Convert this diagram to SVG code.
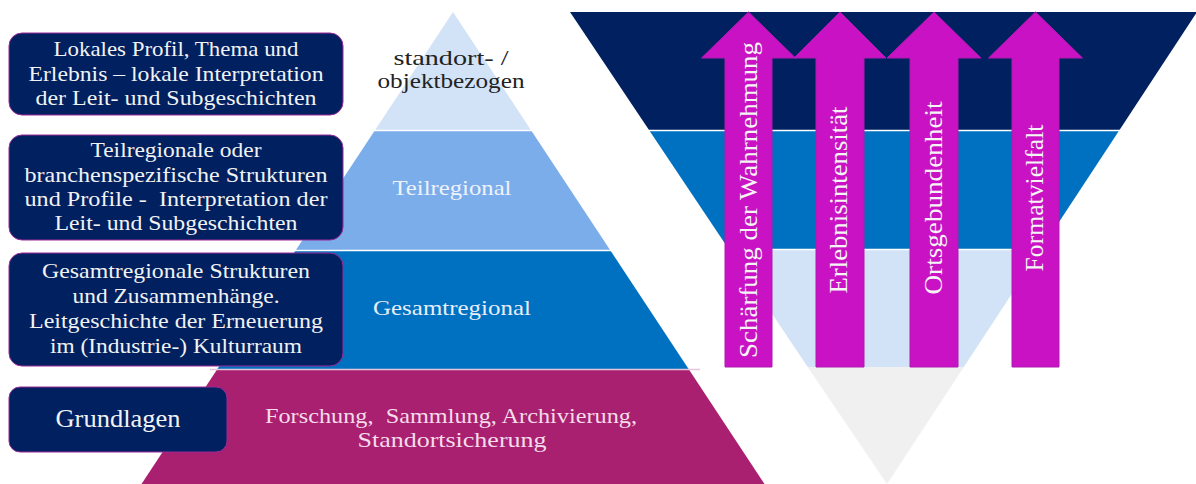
<svg xmlns="http://www.w3.org/2000/svg" width="1196" height="484" viewBox="0 0 1196 484">
<style>
text{lengthAdjust:spacingAndGlyphs}
.box{fill:#002060;stroke:#9b2a98;stroke-width:1}
.bt{font-family:"Liberation Serif","DejaVu Serif",serif;font-size:21px;fill:#f2f2f2;text-anchor:middle}
.pt{font-family:"Liberation Serif","DejaVu Serif",serif;font-size:22px;text-anchor:middle}
.arrow{fill:#c812c4;stroke:#b01ab0;stroke-width:1}
.at{font-family:"Liberation Serif","DejaVu Serif",serif;font-size:25px;fill:#f4f4f4;text-anchor:middle}
.sep{stroke:#ffffff;stroke-width:1.5}
</style>
<rect width="1196" height="484" fill="#ffffff"/>
<g id="pyramid">
  <polygon points="453,12 530.9,130 375.1,130" fill="#d2e3f7"/>
  <polygon points="375.1,130 530.9,130 610.1,250 295.9,250" fill="#7badeb"/>
  <polygon points="295.9,250 610.1,250 688.6,369 217.4,369" fill="#0070c0"/>
  <polygon points="217.4,369 688.6,369 764.5,484 141.5,484" fill="#a8206f"/>
  <line class="sep" x1="370" y1="130.5" x2="540" y2="130.5"/>
  <line class="sep" x1="290" y1="250.5" x2="620" y2="250.5"/>
  <line x1="210" y1="369.5" x2="700" y2="369.5" stroke="#e6c6dc" stroke-width="1.5"/>
</g>
<g id="funnel">
  <polygon points="570,12 1197,12 1119.5,130 649,130" fill="#002060"/>
  <polygon points="649,130 1119.5,130 1040.6,250 729.3,250" fill="#0070c0"/>
  <polygon points="729.3,250 1040.6,250 963.8,367 807.7,367" fill="#d2e3f7"/>
  <polygon points="807.7,367 963.8,367 887,484" fill="#f0f0f0"/>
  <line class="sep" x1="640" y1="130.5" x2="1130" y2="130.5"/>
  <line class="sep" x1="720" y1="249.5" x2="1050" y2="249.5"/>
</g>
<g id="label-standort">
  <text class="pt" fill="#222222" x="451" y="65" textLength="115" lengthAdjust="spacingAndGlyphs">standort- /</text>
  <text class="pt" fill="#222222" x="451" y="88" textLength="147" lengthAdjust="spacingAndGlyphs">objektbezogen</text>
</g>
<g id="label-teilregional">
  <text class="pt" fill="#eef2fa" x="452" y="195" textLength="119" lengthAdjust="spacingAndGlyphs">Teilregional</text>
</g>
<g id="label-gesamtregional">
  <text class="pt" fill="#e8eef8" x="452" y="315" textLength="158" lengthAdjust="spacingAndGlyphs">Gesamtregional</text>
</g>
<g id="label-grundlagen-layer">
  <text class="pt" fill="#f4dcea" x="451" y="423" textLength="372" lengthAdjust="spacingAndGlyphs" xml:space="preserve">Forschung,  Sammlung, Archivierung,</text>
  <text class="pt" fill="#f4dcea" x="452" y="447" textLength="189" lengthAdjust="spacingAndGlyphs">Standortsicherung</text>
</g>
<g id="box-lokal">
  <rect class="box" x="9" y="33" width="334" height="82" rx="13"/>
  <text class="bt" x="176" y="56" textLength="245" lengthAdjust="spacingAndGlyphs">Lokales Profil, Thema und</text>
  <text class="bt" x="176" y="81" textLength="295" lengthAdjust="spacingAndGlyphs">Erlebnis – lokale Interpretation</text>
  <text class="bt" x="176" y="105" textLength="281" lengthAdjust="spacingAndGlyphs">der Leit- und Subgeschichten</text>
</g>
<g id="box-teilregional">
  <rect class="box" x="9" y="135" width="334" height="105" rx="13"/>
  <text class="bt" x="176" y="157" textLength="171" lengthAdjust="spacingAndGlyphs">Teilregionale oder</text>
  <text class="bt" x="176" y="182" textLength="303" lengthAdjust="spacingAndGlyphs">branchenspezifische Strukturen</text>
  <text class="bt" x="176" y="206" textLength="303" lengthAdjust="spacingAndGlyphs" xml:space="preserve">und Profile -  Interpretation der</text>
  <text class="bt" x="176" y="230" textLength="243" lengthAdjust="spacingAndGlyphs">Leit- und Subgeschichten</text>
</g>
<g id="box-gesamtregional">
  <rect class="box" x="9" y="253" width="334" height="113" rx="13"/>
  <text class="bt" x="176" y="278" textLength="268" lengthAdjust="spacingAndGlyphs">Gesamtregionale Strukturen</text>
  <text class="bt" x="176" y="303" textLength="207" lengthAdjust="spacingAndGlyphs">und Zusammenhänge.</text>
  <text class="bt" x="176" y="328" textLength="294" lengthAdjust="spacingAndGlyphs">Leitgeschichte der Erneuerung</text>
  <text class="bt" x="176" y="353" textLength="252" lengthAdjust="spacingAndGlyphs">im (Industrie-) Kulturraum</text>
</g>
<g id="box-grundlagen">
  <rect class="box" x="9" y="387" width="218" height="65" rx="11"/>
  <text class="bt" style="font-size:25px" x="118" y="427" textLength="125" lengthAdjust="spacingAndGlyphs">Grundlagen</text>
</g>
<g id="arrow-wahrnehmung">
  <polygon class="arrow" points="748.5,12 795.5,58 772,58 772,367 725,367 725,58 701.5,58"/>
  <text class="at" transform="translate(757,200) rotate(-90)" textLength="316" lengthAdjust="spacingAndGlyphs">Schärfung der Wahrnehmung</text>
</g>
<g id="arrow-erlebnis">
  <polygon class="arrow" points="840,12 886,58 864,58 864,367 816,367 816,58 794,58"/>
  <text class="at" transform="translate(847,200) rotate(-90)" textLength="187" lengthAdjust="spacingAndGlyphs">Erlebnisintensität</text>
</g>
<g id="arrow-orts">
  <polygon class="arrow" points="934,12 981,58 958,58 958,367 910,367 910,58 887,58"/>
  <text class="at" transform="translate(942,198) rotate(-90)" textLength="193" lengthAdjust="spacingAndGlyphs">Ortsgebundenheit</text>
</g>
<g id="arrow-format">
  <polygon class="arrow" points="1035.5,12 1082.5,58 1059,58 1059,367 1012,367 1012,58 988.5,58"/>
  <text class="at" transform="translate(1043,198) rotate(-90)" textLength="147" lengthAdjust="spacingAndGlyphs">Formatvielfalt</text>
</g>
</svg>
